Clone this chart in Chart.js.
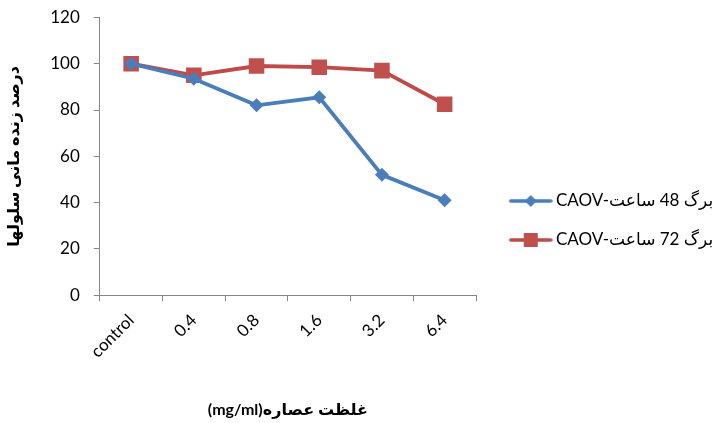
<!DOCTYPE html>
<html>
<head>
<meta charset="utf-8">
<script src="https://cdn.jsdelivr.net/npm/chart.js@4"></script>
<style>
  html, body { margin: 0; padding: 0; background: #fff; }
  #wrap { width: 725px; height: 423px; }
</style>
</head>
<body>
<div id="wrap"><canvas id="chart" width="725" height="423"></canvas></div>
<script>
// categories (extract concentration)
const categories = ['control', '0.4', '0.8', '1.6', '3.2', '6.4'];

// survival percentages
const values48h = [100, 93.5, 82, 85.5, 52, 41];
const values72h = [100, 95, 99, 98.5, 97, 82.5];

const seriesNames = ['CAOV-برگ 48 ساعت', 'CAOV-برگ 72 ساعت'];

const yTicks = [0, 20, 40, 60, 80, 100, 120];
const yTitle = 'درصد زنده مانی سلولها';
const xTitle = '(mg/ml)غلظت عصاره';

const FONT = 'Lato, "DejaVu Sans", sans-serif';

/**
 * Legend icon: short line with the marker in the middle (like Excel).
 * The image is wider than the drawing so the line sits a bit to the right.
 */
function legendIcon(lineColor, fillColor, shape) {
    const c = document.createElement('canvas');
    c.width = 60;
    c.height = 16;
    const ctx = c.getContext('2d');
    const x0 = 16;
    ctx.strokeStyle = lineColor;
    ctx.lineWidth = 3.5;
    ctx.lineCap = 'round';
    ctx.beginPath();
    ctx.moveTo(x0 + 2, 8);
    ctx.lineTo(x0 + 42, 8);
    ctx.stroke();
    ctx.fillStyle = fillColor;
    ctx.beginPath();
    if (shape === 'diamond') {
        ctx.moveTo(x0 + 22, 2);
        ctx.lineTo(x0 + 28, 8);
        ctx.lineTo(x0 + 22, 14);
        ctx.lineTo(x0 + 16, 8);
    } else {
        ctx.rect(x0 + 15, 1, 14, 14);
    }
    ctx.closePath();
    ctx.fill();
    return c;
}

const icons = [
    legendIcon('#4A7EBB', '#4A7EBB', 'diamond'),
    legendIcon('#BE4B48', '#C0504D', 'square')
];

new Chart(document.getElementById('chart'), {
    type: 'line',
    data: {
        labels: categories,
        datasets: [{
            label: seriesNames[0],
            data: values48h,
            borderColor: '#4A7EBB',
            backgroundColor: '#4A7EBB',
            borderWidth: 3.8,
            pointStyle: 'rectRot',
            pointRadius: 7,
            pointBorderWidth: 0,
            tension: 0
        }, {
            label: seriesNames[1],
            data: values72h,
            borderColor: '#BE4B48',
            backgroundColor: '#C0504D',
            borderWidth: 3.8,
            pointStyle: 'rect',
            pointRadius: 11,
            pointBorderWidth: 0,
            tension: 0
        }]
    },
    options: {
        responsive: false,
        animation: false,
        devicePixelRatio: 1,
        layout: {
            padding: { top: 0, left: 4, right: 3, bottom: 4 }
        },
        plugins: {
            tooltip: { enabled: false },
            legend: {
                position: 'right',
                maxWidth: 246,
                title: {
                    display: true,
                    text: '',
                    padding: 0,
                    font: { size: 18.3 }
                },
                labels: {
                    usePointStyle: true,
                    pointStyleWidth: 49.5,
                    padding: 22,
                    color: '#000',
                    font: { family: FONT, size: 17 },
                    generateLabels(chart) {
                        const items = Chart.defaults.plugins.legend.labels.generateLabels(chart);
                        items.forEach((item, i) => {
                            item.pointStyle = icons[i];
                        });
                        return items;
                    }
                }
            }
        },
        scales: {
            x: {
                offset: true,
                grid: {
                    offset: true,
                    drawOnChartArea: false,
                    color: '#868686',
                    tickLength: 6
                },
                border: { color: '#868686', width: 1 },
                ticks: {
                    color: '#000',
                    font: { family: FONT, size: 17 },
                    minRotation: 45,
                    maxRotation: 45,
                    padding: 9
                },
                title: {
                    display: true,
                    text: xTitle,
                    color: '#000',
                    font: { family: FONT, size: 16, weight: 'bold' },
                    padding: { top: 29, bottom: 0 }
                }
            },
            y: {
                min: 0,
                max: 120,
                afterBuildTicks(axis) {
                    axis.ticks = yTicks.map(v => ({ value: v }));
                },
                grid: {
                    drawOnChartArea: false,
                    color: '#868686',
                    tickLength: 6
                },
                border: { color: '#868686', width: 1 },
                ticks: {
                    color: '#000',
                    // small line height so the label padding does not push the plot down
                    font: { family: FONT, size: 17, lineHeight: 0.4 },
                    padding: 14
                },
                title: {
                    display: true,
                    text: yTitle,
                    color: '#000',
                    font: { family: FONT, size: 16, weight: 'bold' },
                    padding: { top: 0, bottom: 13 }
                }
            }
        }
    }
});
</script>
</body>
</html>
